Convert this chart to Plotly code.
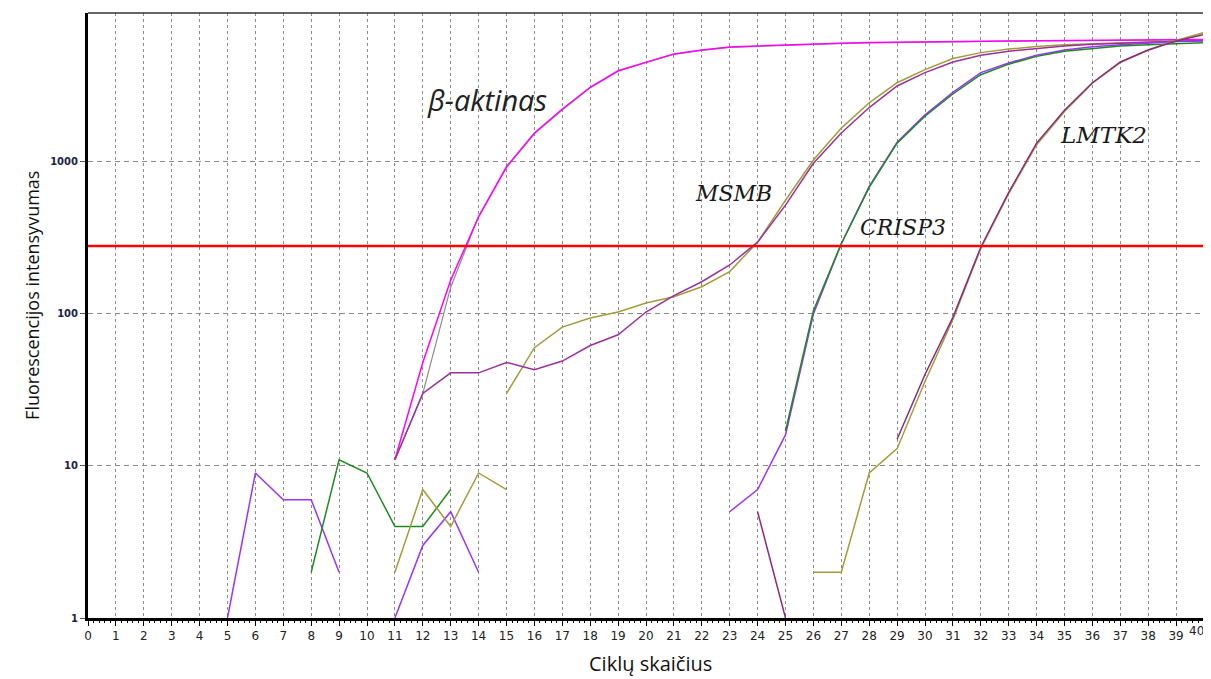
import plotly.graph_objects as go

N = None
cycles = list(range(0, 41))

# beta-actin duplicates
beta_a = [N]*11 + [11, 48, 167, 436, 930, 1550, 2230, 3100, 3980, 4550, 5140, 5450, 5710, 5800, 5900,
                   5980, 6050, 6100, 6140, 6170, 6200, 6230, 6250, 6270, 6290, 6310, 6330, 6350, 6370, 6400]
beta_b = [N]*11 + [11, 30, 150, 440, 920, 1530, 2200, 3080, 3950, 4520, 5100, 5420, 5680, 5780, 5880,
                   5960, 6030, 6080, 6120, 6150, 6180, 6210, 6230, 6250, 6270, 6290, 6310, 6330, 6350, 6380]
# MSMB duplicates
msmb_a = [N]*11 + [11, 30, 41, 41, 48, 43, 49, 62, 73, 103, 132, 163, 210, 297, 520,
                   980, 1550, 2280, 3160, 3870, 4550, 5040, 5350, 5600, 5800, 5950, 6050, 6150, 6250, 6300]
msmb_b = [N]*15 + [30, 60, 82, 94, 103, 118, 130, 151, 190, 297, 560,
                   1030, 1670, 2450, 3320, 4050, 4790, 5240, 5530, 5750, 5900, 6000, 6100, 6180, 6250, 6300]
# CRISP3 duplicates
crisp_a = [N]*5 + [1, 9, 6, 6, 2, N, 1, 3, 5, 2] + [N]*8 + [5, 7, 16, 100, 290, 690, 1350, 2040, 2870,
                   3870, 4480, 5040, 5450, 5730, 5900, 6050, 6200, 6250]
crisp_b = [N]*8 + [2, 11, 9, 4, 4, 7] + [N]*11 + [17, 105, 290, 680, 1330, 2000, 2800, 3750, 4400,
                   4950, 5350, 5600, 5800, 5900, 6000, 6100]
# LMTK2 duplicates
lmtk_a = [N]*24 + [5, 1, N, N, N, 15, 40, 95, 275, 630, 1330, 2190, 3320, 4550, 5450, 6250, 6900]
lmtk_b = [N]*11 + [2, 7, 4, 9, 7] + [N]*10 + [2, 2, 9, 13, 36, 92, 270, 620, 1300, 2150, 3300,
                   4500, 5450, 6300, 7100]

threshold = 280
threshold_x = [0, 40]

y_ticks = [1, 10, 100, 1000]
y_ticktext = ["1", "10", "100", "1000"]
x_ticks = list(range(0, 41))
x_ticktext = [str(v) for v in x_ticks[:-1]] + [""]   # last label drawn right-aligned below
x_last_label = str(x_ticks[-1])

traces = [
    (beta_b, "#8c8c8c", 1.2),
    (beta_a, "#ff00ff", 1.5),
    (msmb_b, "#9e9e3a", 1.5),
    (msmb_a, "#9b309b", 1.5),
    (crisp_a, "#9933ff", 1.5),
    (crisp_b, "#1f8a1f", 1.5),
    (lmtk_b, "#9e9e3a", 1.5),
    (lmtk_a, "#8e2a7e", 1.5),
]

fig = go.Figure()
for ys, col, w in traces:
    fig.add_trace(go.Scatter(x=cycles, y=ys, mode="lines", line=dict(color=col, width=w),
                             connectgaps=False, showlegend=False, hoverinfo="skip"))

fig.add_trace(go.Scatter(x=threshold_x, y=[threshold, threshold], mode="lines",
                         line=dict(color="#ff0000", width=2.5), showlegend=False, hoverinfo="skip"))

# page body has an 8px margin, so the figure is sized to keep the plot area in place
fig.update_layout(
    width=1203, height=671,
    margin=dict(l=80, r=7, t=5, b=61, autoexpand=False),
    paper_bgcolor="white", plot_bgcolor="white",
    showlegend=False,
)

fig.update_xaxes(
    range=[0, 40], tickvals=x_ticks, ticktext=x_ticktext,
    showline=True, linecolor="black", linewidth=3, automargin=False,
    ticks="outside", ticklen=5, tickwidth=1, tickcolor="black",
    tickfont=dict(family="DejaVu Sans", size=12, color="#222222"),
    ticklabeloverflow="allow",
    showgrid=True, gridcolor="#8a8a8a", gridwidth=1, griddash="dot",
    minor=dict(dtick=0.2, ticks="outside", ticklen=2, tickcolor="black", showgrid=False),
    zeroline=False,
)
fig.update_yaxes(
    type="log", range=[0, 3.98], tickvals=y_ticks, ticktext=y_ticktext,
    showline=True, linecolor="black", linewidth=3, automargin=False,
    ticks="outside", ticklen=5, tickwidth=1, tickcolor="#555555",
    tickfont=dict(family="DejaVu Sans", size=10, color="#222244", weight="bold"),
    showgrid=True, gridcolor="#8a8a8a", gridwidth=1, griddash="5px,4px",
    zeroline=False,
)

# thin top and right frame
fig.add_shape(type="line", xref="paper", yref="paper", x0=0, x1=1, y0=1, y1=1,
              line=dict(color="#333333", width=1.5))
fig.add_shape(type="line", xref="paper", yref="paper", x0=1, x1=1, y0=0, y1=1,
              line=dict(color="#111111", width=1.5))

labels = [
    ("β-aktinas", 14.3, 3.41, "Open Sans", 29, "#222222"),
    ("MSMB", 23.15, 2.79, "DejaVu Serif", 22, "#1a1a1a"),
    ("CRISP3", 29.2, 2.57, "DejaVu Serif", 22, "#1a1a1a"),
    ("LMTK2", 36.4, 3.18, "DejaVu Serif", 23, "#1a1a1a"),
]
for txt, x, y, fam, sz, col in labels:
    fig.add_annotation(x=x, y=y, xref="x", yref="y", text=f"<i>{txt}</i>", showarrow=False,
                       xanchor="center", yanchor="middle",
                       font=dict(family=fam, size=sz, color=col))

# last x tick label, kept inside the visible page
fig.add_annotation(x=1, y=0, xref="paper", yref="paper", text=x_last_label, showarrow=False,
                   xanchor="right", yanchor="top", xshift=1, yshift=-5, borderpad=0,
                   font=dict(family="DejaVu Sans", size=12, color="#222222"))

fig.add_annotation(x=-0.0502, y=0.534, xref="paper", yref="paper", text="Fluorescencijos intensyvumas",
                   textangle=-90, showarrow=False, xanchor="center", yanchor="middle",
                   font=dict(family="Open Sans", size=18, color="#111111"))
fig.add_annotation(x=0.5036, y=-0.076, xref="paper", yref="paper", text="Ciklų skaičius",
                   showarrow=False, xanchor="center", yanchor="middle",
                   font=dict(family="Open Sans", size=20, color="#111111"))

fig.write_html("out.html")
